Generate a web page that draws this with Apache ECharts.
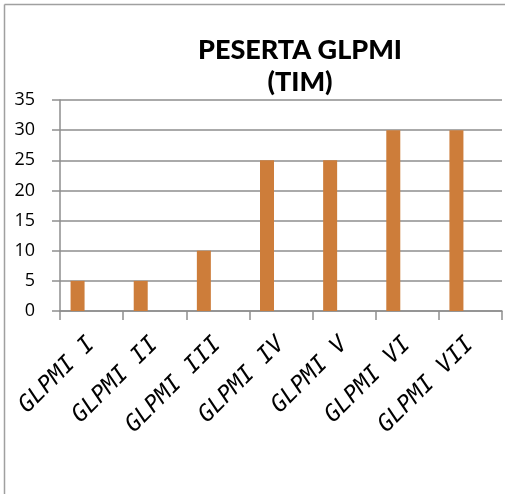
<!DOCTYPE html>
<html>
<head>
<meta charset="utf-8">
<script src="https://cdn.jsdelivr.net/npm/echarts@6/dist/echarts.min.js"></script>
<style>html,body{margin:0;padding:0;background:#fff;}#c{width:505px;height:494px;}</style>
</head>
<body>
<div id="c"></div>
<script>
var categories = ['GLPMI I','GLPMI II','GLPMI III','GLPMI IV','GLPMI V','GLPMI VI','GLPMI VII'];
var pesertaValues = [5, 5, 10, 25, 25, 30, 30];
var emptySeries2 = [null, null, null, null, null, null, null];
var emptySeries3 = [null, null, null, null, null, null, null];
var yTicks = [0, 5, 10, 15, 20, 25, 30, 35];

var chart = echarts.init(document.getElementById('c'), null, {renderer: 'canvas'});
var gridColor = '#8e8e8e';
chart.setOption({
  animation: false,
  backgroundColor: '#fff',
  title: {
    text: 'PESERTA GLPMI\n(TIM)',
    left: 295, top: 29, textAlign: 'center',
    textStyle: {fontFamily: 'Lato', fontWeight: 900, fontSize: 27, lineHeight: 32, color: '#000'}
  },
  grid: {left: 60, top: 100, right: 3, bottom: 183, containLabel: false},
  xAxis: {
    type: 'category', data: categories,
    axisLine: {show: true, lineStyle: {color: gridColor, width: 1.5}},
    axisTick: {show: true, interval: 0, length: 9, lineStyle: {color: gridColor, width: 1.5}},
    axisLabel: {interval: 0, rotate: 45, margin: 30, fontFamily: '"DejaVu Sans Mono"', fontStyle: 'italic', fontSize: 23, color: '#000'}
  },
  yAxis: {
    type: 'value', min: yTicks[0], max: yTicks[yTicks.length - 1], interval: 5,
    axisLine: {show: true, lineStyle: {color: gridColor, width: 1.5}},
    axisTick: {show: true, length: 8, lineStyle: {color: gridColor, width: 1.5}},
    splitLine: {show: true, lineStyle: {color: gridColor, width: 1.5}},
    axisLabel: {margin: 25, fontFamily: 'Open Sans', fontSize: 18, color: '#000'}
  },
  series: [
    {type: 'bar', data: pesertaValues, barWidth: 14, barGap: '0%', itemStyle: {color: '#CD7D3A'}},
    {type: 'bar', data: emptySeries2, barWidth: 14, barGap: '0%'},
    {type: 'bar', data: emptySeries3, barWidth: 14, barGap: '0%'}
  ],
  graphic: [
    {type: 'line', shape: {x1: 4.5, y1: 4.5, x2: 505, y2: 4.5}, style: {stroke: '#a0a0a0', lineWidth: 1.5}},
    {type: 'line', shape: {x1: 4.5, y1: 4.5, x2: 4.5, y2: 494}, style: {stroke: '#a0a0a0', lineWidth: 1.5}}
  ]
});
</script>
</body>
</html>
